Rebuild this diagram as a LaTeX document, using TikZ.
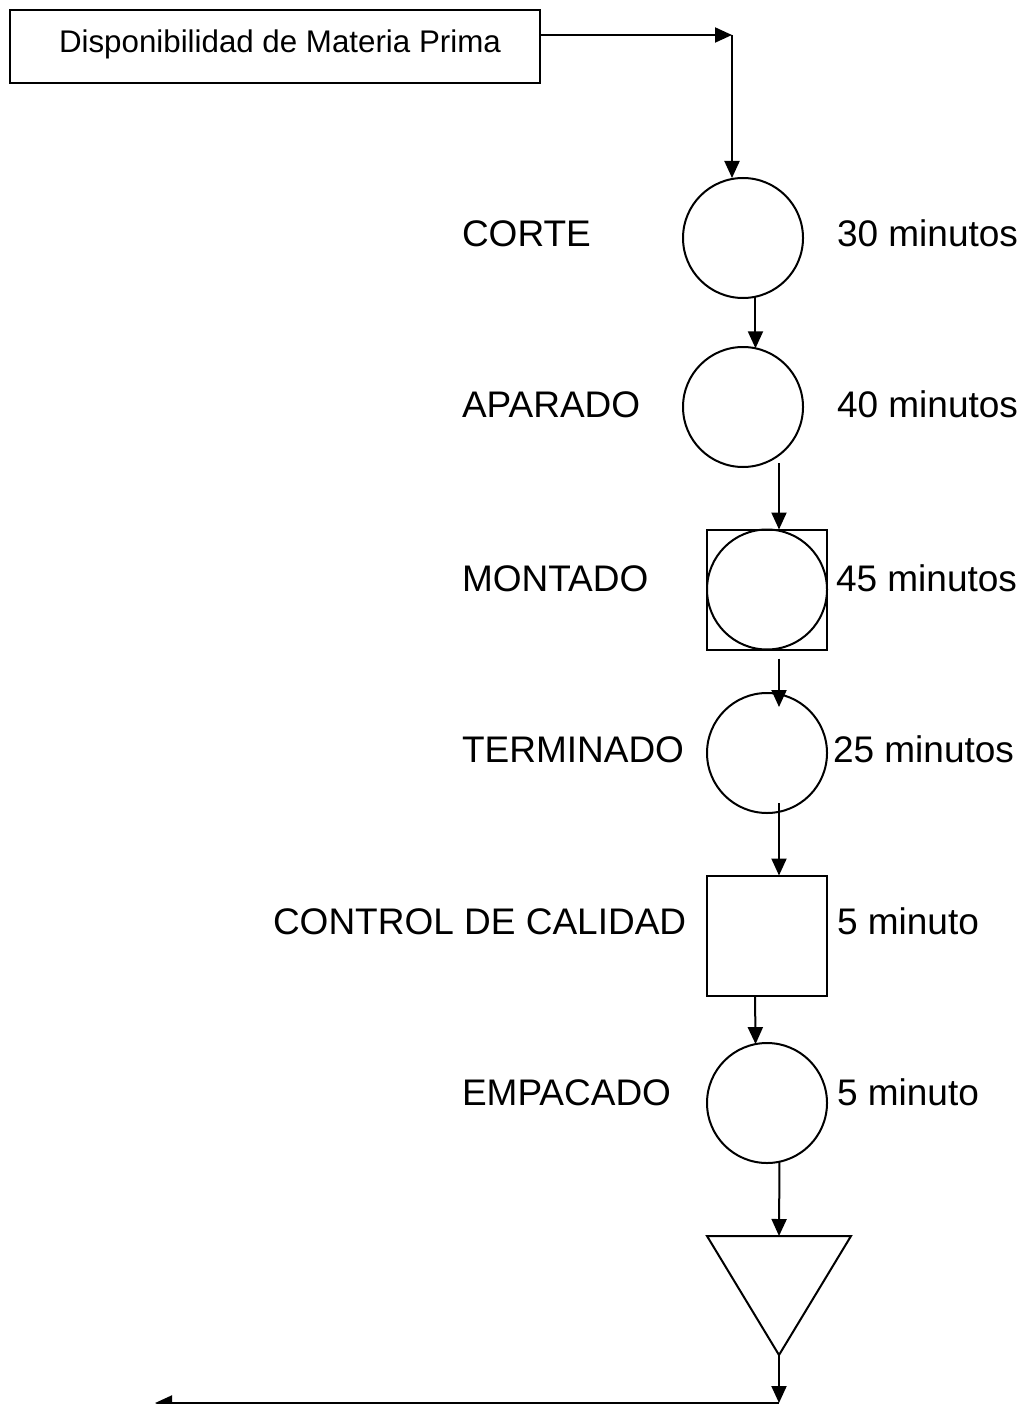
\documentclass[tikz,border=0pt]{standalone}
\usepackage{fontspec}
\setmainfont{Liberation Sans}
\usetikzlibrary{arrows.meta}
\begin{document}
\begin{tikzpicture}[x=1pt,y=-1pt,line width=2pt,
  flow/.style={-{Triangle[length=17pt,width=15pt]}},
  op/.style={draw,circle,minimum size=120pt,inner sep=0pt,outer sep=0pt},
  insp/.style={draw,rectangle,minimum size=120pt,inner sep=0pt,outer sep=0pt},
  lbl/.style={anchor=base west,inner sep=0pt,font=\fontsize{37}{44}\selectfont},
]
\useasboundingbox (0,0) rectangle (1026,1404);

% raw material box
\node[draw,minimum width=530pt,minimum height=73pt,inner sep=0pt,outer sep=0pt] (mp) at (275,46.5) {};
\node[anchor=base west,inner sep=0pt,font=\fontsize{31.3}{37}\selectfont] (mptext) at (58,53) {Disponibilidad de Materia Prima};

% process symbols
\node[op] (corte) at (743,238) {};
\node[op] (aparado) at (743,407) {};
\node[insp] (montadoSq) at (767,589.5) {};
\node[op] (montado) at (767,589.5) {};
\node[op] (terminado) at (767,753) {};
\node[insp] (control) at (767,935.5) {};
\node[op] (empacado) at (767,1103) {};

% storage triangle
\coordinate (almTL) at (707,1236);
\coordinate (almTop) at (779,1236);
\coordinate (almTR) at (851,1236);
\coordinate (almB) at (779,1355);
\draw (almTL) -- (almTR) -- (almB) -- cycle;

% labels
\node[lbl] (lCorte) at (461,247) {CORTE};
\node[lbl] (tCorte) at (836,247) {30 minutos};
\node[lbl] (lAparado) at (461,417) {APARADO};
\node[lbl] (tAparado) at (836,417) {40 minutos};
\node[lbl] (lMontado) at (461,591) {MONTADO};
\node[lbl] (tMontado) at (835,591) {45 minutos};
\node[lbl] (lTerminado) at (461,762) {TERMINADO};
\node[lbl] (tTerminado) at (832,762) {25 minutos};
\node[lbl] (lControl) at (272,934) {CONTROL DE CALIDAD};
\node[lbl] (tControl) at (836,934) {5 minuto};
\node[lbl] (lEmpacado) at (461,1105) {EMPACADO};
\node[lbl] (tEmpacado) at (836,1105) {5 minuto};

% connectors
\coordinate (corner) at (732,35);
\coordinate (out) at (779,1403);
\coordinate (exit) at (155,1403);
\draw[flow] (mp.east |- corner) -- (corner);
\draw[flow] (corner) -- (corner |- corte.north);
\draw[flow] (corte.-78.5) -- (aparado.78.5);
\draw[flow] ([xshift=36pt,yshift=4pt]aparado.south) -- ([xshift=12pt]montadoSq.north);
\draw[flow] ([xshift=12pt,yshift=-9pt]montadoSq.south) -- ([xshift=12pt,yshift=-14pt]terminado.north);
\draw[flow] ([xshift=12pt,yshift=10pt]terminado.south) -- ([xshift=12pt]control.north);
\draw[flow] ([xshift=-12pt]control.south) -- (empacado.101.5);
\draw[flow] (empacado.-78.5) -- (almTop);
\draw[flow] (almB) -- (out);
\draw[flow] (out) -- (exit);
\end{tikzpicture}
\end{document}
